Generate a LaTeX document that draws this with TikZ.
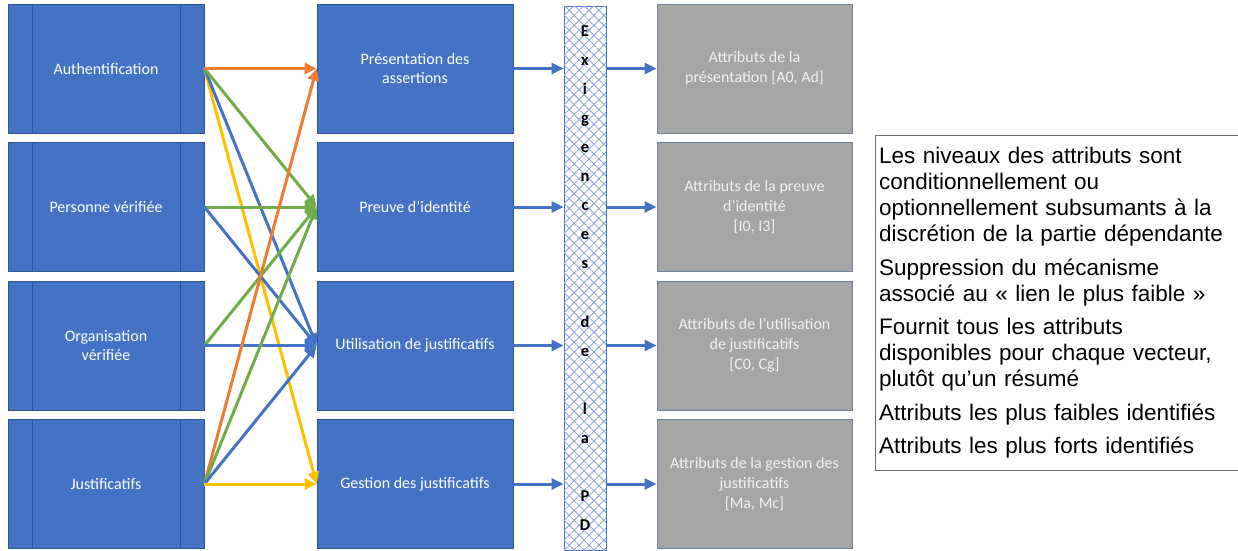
\documentclass[tikz,border=0pt]{standalone}
\usepackage{fontspec}
\setmainfont{Carlito}
\newfontfamily\arialf{Liberation Sans}
\newfontfamily\barfont{Carlito Bold}
\usetikzlibrary{arrows.meta,patterns.meta}
\definecolor{boxblue}{HTML}{4472C4}
\definecolor{boxedge}{HTML}{2F5597}
\definecolor{arrblue}{HTML}{4472C4}
\definecolor{arrorange}{HTML}{ED7D31}
\definecolor{arrgreen}{HTML}{70AD47}
\definecolor{arryellow}{HTML}{FFC000}
\definecolor{greyfill}{HTML}{A5A5A5}
\definecolor{greyedge}{HTML}{6F7F99}
\definecolor{greytext}{HTML}{F2F2F2}
\definecolor{hatch}{HTML}{86A3DA}
\definecolor{noteedge}{HTML}{6E6E6E}
\begin{document}
\begin{tikzpicture}[x=1pt,y=-1pt,
  bluebox/.style={draw=boxedge, line width=0.8pt, fill=boxblue, minimum width=196pt,
    minimum height=129pt, inner sep=2pt, text=white, align=center,
    font=\fontsize{16}{19.5}\selectfont},
  greybox/.style={draw=greyedge, line width=0.9pt, fill=greyfill, minimum width=195pt,
    minimum height=129pt, inner sep=2pt, text=greytext, align=center,
    font=\fontsize{16}{20}\selectfont},
  arr/.style={line width=3pt, -{Triangle[length=12pt,width=11pt]}},
]
\useasboundingbox (0,0) rectangle (1238,550);
\clip (0,0) rectangle (1238,550);

% left boxes
\foreach \n/\t [count=\i from 0] in {L1/Authentification, L2/Personne vérifiée,
    L3/{Organisation\\vérifiée}, L4/Justificatifs}{
  \node (\n) [bluebox] at (106, 68.5+138.5*\i) {\t};
  \draw[boxedge, line width=0.8pt] ([xshift=25pt]\n.north west) -- ([xshift=25pt]\n.south west);
  \draw[boxedge, line width=0.8pt] ([xshift=-24pt]\n.north east) -- ([xshift=-24pt]\n.south east);
}

% middle boxes
\foreach \n/\t [count=\i from 0] in {M1/{Présentation des\\assertions}, M2/Preuve d’identité,
    M3/Utilisation de justificatifs, M4/Gestion des justificatifs}{
  \node (\n) [bluebox] at (415, 68.5+138.5*\i) {\t};
}

% grey boxes
\foreach \n/\t [count=\i from 0] in {G1/{Attributs de la\\présentation [A0, Ad]},
    G2/{Attributs de la preuve\\d’identité\\{[I0, I3]}},
    G3/{Attributs de l’utilisation\\de justificatifs\\{[C0, Cg]}},
    G4/{Attributs de la gestion des\\justificatifs\\{[Ma, Mc]}}}{
  \node (\n) [greybox] at (754.5, 68.5+138.5*\i) {\t};
}

% hatched bar
\node (bar) [draw=boxblue, line width=0.9pt, fill=white, minimum width=42pt,
  minimum height=544pt, inner sep=0pt, align=center,
  postaction={pattern={Lines[angle=45,distance=7pt,line width=0.8pt]}, pattern color=hatch},
  postaction={pattern={Lines[angle=-45,distance=7pt,line width=0.8pt]}, pattern color=hatch},
  font=\barfont\fontsize{16.5}{29.1}\selectfont] at (585,278)
  {E\\x\\i\\g\\e\\n\\c\\e\\s\\[29.1pt]d\\e\\[29.1pt]l\\a\\[29.1pt]P\\D};

% crossing connectors
\draw[arr, arryellow] (L1.east) -- (M4.west);
\draw[arr, arrblue] (L1.east) -- (M3.west);
\draw[arr, arrgreen] (L1.east) -- (M2.west);
\draw[arr, arrorange] (L1.east) -- (M1.west);
\draw[arr, arrgreen] (L2.east) -- (M2.west);
\draw[arr, arrblue] (L2.east) -- (M3.west);
\draw[arr, arrgreen] (L3.east) -- (M2.west);
\draw[arr, arrblue] (L3.east) -- (M3.west);
\draw[arr, arrorange] (L4.east) -- (M1.west);
\draw[arr, arrgreen] (L4.east) -- (M2.west);
\draw[arr, arrblue] (L4.east) -- (M3.west);
\draw[arr, arryellow] (L4.east) -- (M4.west);

% through the bar
\foreach \i in {1,...,4}{
  \draw[arr, arrblue] (M\i.east) -- (M\i.east -| bar.west);
  \draw[arr, arrblue] (G\i.west -| bar.east) -- (G\i.west);
}

% notes
\node (notes) [draw=noteedge, line width=1pt, anchor=north west, minimum height=335pt,
  text width=362pt, inner xsep=3.5pt, inner ysep=0pt, align=left,
  font=\arialf\fontsize{22.5}{26}\selectfont] at (875,135)
  {Les niveaux des attributs sont\\conditionnellement ou\\optionnellement subsumants à la\\discrétion de la partie dépendante\\[7.5pt]
   Suppression du mécanisme\\associé au « lien le plus faible »\\[7.5pt]
   Fournit tous les attributs\\disponibles pour chaque vecteur,\\plutôt qu’un résumé\\[7.5pt]
   Attributs les plus faibles identifiés\\[7.5pt]
   Attributs les plus forts identifiés};
\end{tikzpicture}
\end{document}
